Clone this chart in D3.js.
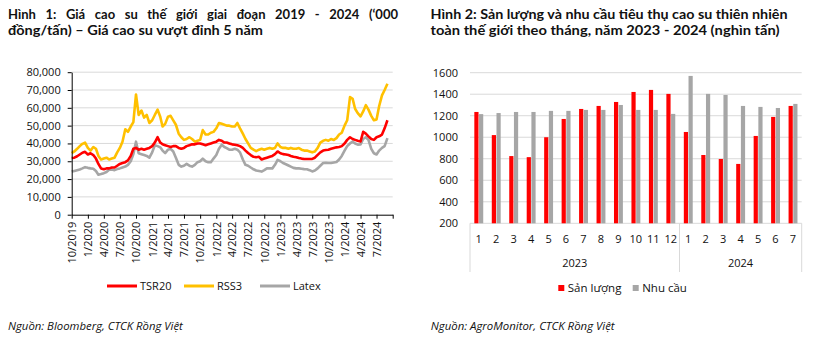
<!DOCTYPE html>
<html><head><meta charset="utf-8">
<script src="https://cdn.jsdelivr.net/npm/d3@7"></script>
<style>
body{margin:0;background:#fff;}
svg{display:block;font-family:"Open Sans",sans-serif;}
</style></head><body>
<svg id="c" width="821" height="337"></svg>
<script>
// ---------- Figure 1 data (thousand VND / tonne, semi-monthly readings) ----------
const months = ["2019-10","2019-11","2019-12",
"2020-01","2020-02","2020-03","2020-04","2020-05","2020-06","2020-07","2020-08","2020-09","2020-10","2020-11","2020-12",
"2021-01","2021-02","2021-03","2021-04","2021-05","2021-06","2021-07","2021-08","2021-09","2021-10","2021-11","2021-12",
"2022-01","2022-02","2022-03","2022-04","2022-05","2022-06","2022-07","2022-08","2022-09","2022-10","2022-11","2022-12",
"2023-01","2023-02","2023-03","2023-04","2023-05","2023-06","2023-07","2023-08","2023-09","2023-10","2023-11","2023-12",
"2024-01","2024-02","2024-03","2024-04","2024-05","2024-06","2024-07","2024-08","2024-09"];
const sampleDays = ["01","16"];
const tsr20 = [31.8,32,32.8,33.8,34.8,35.3,33.8,34.5,33.5,31.5,28.5,26,25.5,26,26,26.5,26.5,27.5,28.5,29,29.5,30.5,33,37,37.5,36.5,37,36.5,37,37.5,38.5,40.5,43.5,40.5,39.5,39,38.5,38,38.5,38.5,37.5,37,37.5,38.5,39,39.5,39.5,40,40,39.5,39,39.5,40,40.5,41,42,41.5,40.5,40.5,40,39.5,39.3,39,38.5,37.5,36,34.6,33.5,32.5,32.3,32.5,31,31.5,32,32.5,33,34,35.5,34.5,34,33.8,33.5,33,32.5,32.3,31.8,31.5,31.3,31.3,31.3,31.3,32,33.6,35,36,36.3,36.5,37,37.4,37.8,38,38.5,40,42,43.5,42.5,42,41.5,41.1,46.5,45.5,44,42.5,42,43.5,44,45,48.5,53];
const rss3 = [34.6,35.5,37,38.5,39.8,40.5,37.5,36,38,37,33,31,31.5,32,31,31.5,32,35,37.5,41,48,46.5,49.5,52,67.5,56,58.5,54.5,56,51.5,53,56,59,55,49.5,51,55,55.5,53,50.5,45.5,43.5,42,42.5,43.5,42.5,41,41.5,42,47.5,45,45,46,46.5,48.5,51.5,51,50.5,50,50,49.5,49.5,51.5,48.5,45.5,42.5,40,37.5,36.5,35.7,36.5,37,36.5,37,37.5,37,37.5,40,38,37.5,37.5,37,37.5,37,37,37.4,36.5,36,36,35.5,35,35.5,37.5,40.5,41.5,42,41.5,42.5,42,43,45,46,50,53,66,65,59.5,57,55.2,58,61.5,59,55.5,53,53.5,61,67,70,73.5];
const latex = [24.2,24.6,25,25.4,26,26.7,26.3,26,25.8,24.5,22.4,22.8,23.3,24,25.2,25.4,25,25.6,26,26.5,27,28,30,34,41,34.5,34,33.5,33,32,35,39,38.5,37.8,36,34.6,36.5,37,35.5,32,28,27,27.5,28.5,27.5,27,28,29.5,30,31.5,30,29.5,29.5,31.5,33.5,37,39.3,38,37.4,36.5,36.5,37,36.5,35,31,28,27.5,26.5,25.5,24.8,24.5,24.2,25,26,26,26,28,30.8,30,29,28.3,27.6,27,26.3,26,26,25.8,25.6,25.5,25,24.3,24.8,26,27.5,29,29.2,29,29,29.3,29.6,31,33,36,38.5,40,41,40,39.3,39.5,42.5,43.5,42,37,34.5,33.8,36,37.5,38.5,43];
const seriesNames = ["TSR20","RSS3","Latex"];
const seriesColors = ["#ff0000","#ffc000","#a6a6a6"];
const yTicks1 = [0,10000,20000,30000,40000,50000,60000,70000,80000];

// ---------- Figure 2 data (thousand tonnes) ----------
const monthLabels = ["1","2","3","4","5","6","7","8","9","10","11","12","1","2","3","4","5","6","7"];
const yearLabels = ["2023","2024"];
const yearSpans = [12,7];
const production = [1235,1020,825,815,1000,1170,1263,1291,1328,1421,1440,1403,1049,835,798,752,1012,1189,1291];
const demand = [1215,1225,1235,1235,1245,1245,1254,1254,1300,1254,1254,1217,1570,1403,1393,1291,1282,1272,1310];
const barNames = ["Sản lượng","Nhu cầu"];
const barColors = ["#ff0000","#a6a6a6"];
const yTicks2 = [200,400,600,800,1000,1200,1400,1600];

const svg = d3.select("#c");
const parse = d3.timeParse("%Y-%m-%d");

function fit(sel, target){
  const w = sel.node().getComputedTextLength();
  const fs = parseFloat(sel.attr("font-size"));
  sel.attr("font-size", fs*target/w);
  return fs*target/w;
}
function stretch(sel, target){
  sel.attr("textLength", target).attr("lengthAdjust","spacingAndGlyphs");
}
function justify(sel, target){
  const w = sel.node().getComputedTextLength();
  const n = (sel.text().match(/ /g)||[]).length;
  if (w < target) sel.attr("word-spacing", (target-w)/n);
  else stretch(sel, target);
}

// ---------- Titles ----------
const titleAttrs = s => s.attr("font-size",13).attr("font-weight",700).attr("font-family","Lato").attr("fill","#111");
const t2a = svg.append("text").attr("x",430.5).attr("y",18.5).call(titleAttrs)
  .text("Hình 2: Sản lượng và nhu cầu tiêu thụ cao su thiên nhiên");
stretch(t2a, 357);
const t2b = svg.append("text").attr("x",430.5).attr("y",34.5).call(titleAttrs)
  .text("toàn thế giới theo tháng, năm 2023 - 2024 (nghìn tấn)");
stretch(t2b, 349);
const t1a = svg.append("text").attr("x",8).attr("y",18.5).call(titleAttrs)
  .text("Hình 1: Giá cao su thế giới giai đoạn 2019 - 2024 (‘000");
justify(t1a, 390);
const t1b = svg.append("text").attr("x",8).attr("y",34.5).call(titleAttrs)
  .text("đồng/tấn) – Giá cao su vượt đỉnh 5 năm");
stretch(t1b, 255);

// ---------- Figure 1 ----------
const dates = months.flatMap(m => sampleDays.map(d => parse(m+"-"+d))).slice(0, tsr20.length);
const x1 = d3.scaleTime().domain([parse("2019-10-01"), parse("2024-10-01")]).range([71.7, 392.7]);
const y1 = d3.scaleLinear().domain([0,80000]).range([214.7, 72.2]);

const g1 = svg.append("g");
g1.selectAll("line.grid").data(yTicks1.slice(1)).join("line")
  .attr("x1",71.7).attr("x2",392.7).attr("y1",d=>y1(d)).attr("y2",d=>y1(d))
  .attr("stroke","#d9d9d9").attr("stroke-width",1);

const line = d3.line().x((d,i)=>x1(dates[i])).y(d=>y1(d*1000));
const drawOrder = [2,1,0];
drawOrder.forEach(k=>{
  const s = [tsr20, rss3, latex][k];
  g1.append("path").datum(s).attr("d",line).attr("fill","none")
    .attr("stroke",seriesColors[k]).attr("stroke-width",2.6).attr("stroke-linejoin","round");
});

const yAx1 = g1.append("g").attr("transform","translate(71.7,0)")
  .call(d3.axisLeft(y1).tickValues(yTicks1).tickFormat(d3.format(",")).tickSize(4).tickSizeOuter(0).tickPadding(7));
yAx1.selectAll("text").attr("font-size",11).attr("font-family","Open Sans").attr("fill","#111");
yAx1.selectAll("line,path").attr("stroke","#000");

const xTicks1 = d3.timeMonth.every(3).range(parse("2019-10-01"), parse("2024-10-02"));
const fmtX = d => (d.getMonth()+1)+"/"+d.getFullYear();
const xAx1 = g1.append("g").attr("transform","translate(0,214.7)")
  .call(d3.axisBottom(x1).tickValues(xTicks1).tickFormat((d,i)=> i<xTicks1.length-1 ? fmtX(d) : "").tickSize(4).tickSizeOuter(0));
xAx1.selectAll("text").attr("transform","rotate(-90)").attr("x",-7).attr("y",0).attr("dy","0.35em")
  .style("text-anchor","end").attr("font-size",11).attr("font-family","Open Sans").attr("fill","#111");
xAx1.selectAll("line,path").attr("stroke","#000");

// legend 1
const leg1X = [107, 184, 260];
seriesNames.forEach((n,k)=>{
  g1.append("line").attr("x1",leg1X[k]).attr("x2",leg1X[k]+30).attr("y1",286).attr("y2",286)
    .attr("stroke",seriesColors[k]).attr("stroke-width",3);
  g1.append("text").attr("x",leg1X[k]+33).attr("y",286).attr("dy","0.35em").attr("font-size",11).attr("fill","#111").text(n);
});
const s1 = svg.append("text").attr("x",8).attr("y",330).attr("font-size",11).attr("font-style","italic").attr("fill","#111")
  .text("Nguồn: Bloomberg, CTCK Rồng Việt");
fit(s1, 175);

// ---------- Figure 2 ----------
const g2 = svg.append("g");
const x2 = d3.scaleBand().domain(d3.range(monthLabels.length)).range([470, 801.7]);
const y2 = d3.scaleLinear().domain([200,1600]).range([223.3, 72.7]);

g2.selectAll("line.grid").data(yTicks2).join("line")
  .attr("x1",470).attr("x2",801.7).attr("y1",d=>y2(d)).attr("y2",d=>y2(d))
  .attr("stroke","#d9d9d9").attr("stroke-width",1);
g2.selectAll("text.yl").data(yTicks2).join("text")
  .attr("x",458).attr("y",d=>y2(d)).attr("dy","0.35em").attr("text-anchor","end")
  .attr("font-size",11).attr("fill","#111").text(d=>d);

const bw = 4.2;
[production, demand].forEach((s,k)=>{
  g2.selectAll(null).data(s).join("rect")
    .attr("x",(d,i)=> x2(i)+x2.bandwidth()/2 + (k===0 ? -bw-0.2 : 0.3))
    .attr("width",bw)
    .attr("y",d=>y2(d)).attr("height",d=>y2(200)-y2(d))
    .attr("fill",barColors[k]);
});

// multi-level category axis
g2.selectAll("text.ml").data(monthLabels).join("text")
  .attr("x",(d,i)=>x2(i)+x2.bandwidth()/2).attr("y",243).attr("text-anchor","middle")
  .attr("font-size",11).attr("fill","#111").text(d=>d);
let start = 0;
const seps = [0];
yearLabels.forEach((yl,k)=>{
  const a = x2(start), b = x2(start+yearSpans[k]-1)+x2.bandwidth();
  g2.append("text").attr("x",(a+b)/2).attr("y",267).attr("text-anchor","middle")
    .attr("font-size",11).attr("fill","#111").text(yl);
  start += yearSpans[k];
  seps.push(start);
});
seps.forEach(s=>{
  const xx = s < monthLabels.length ? x2(s) : x2.range()[1];
  g2.append("line").attr("x1",xx).attr("x2",xx).attr("y1",223.3).attr("y2",272)
    .attr("stroke","#d9d9d9").attr("stroke-width",1);
});

// legend 2
const leg2X = [558.3, 632.7];
barNames.forEach((n,k)=>{
  g2.append("rect").attr("x",leg2X[k]).attr("y",285).attr("width",6).attr("height",6).attr("fill",barColors[k]);
  g2.append("text").attr("x",leg2X[k]+9.5).attr("y",288).attr("dy","0.35em").attr("font-size",11.5).attr("fill","#111").text(n);
});
const s2 = svg.append("text").attr("x",430.7).attr("y",330).attr("font-size",11).attr("font-style","italic").attr("fill","#111")
  .text("Nguồn: AgroMonitor, CTCK Rồng Việt");
fit(s2, 184);
</script>
</body></html>
